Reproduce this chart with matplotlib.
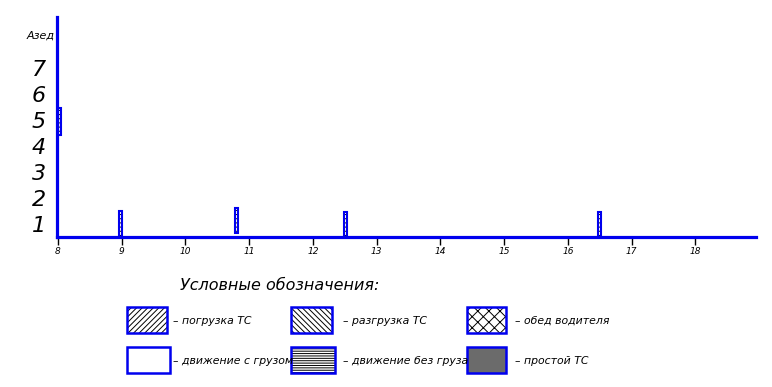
import matplotlib
matplotlib.use("Agg")
import matplotlib.pyplot as plt
from matplotlib.patches import Rectangle

# рейсы ТС: начало (ч), низ и высота столбика (Азед)
trip_x = [8.0, 8.96, 10.78, 12.48, 16.47]
trip_bottom = [3.92, 0.0, 0.14, 0.0, 0.0]
trip_height = [1.04, 0.99, 0.98, 0.98, 0.98]

hours = [8, 9, 10, 11, 12, 13, 14, 15, 16, 17, 18]
levels = [1, 2, 3, 4, 5, 6, 7]

legend_title = "Условные обозначения:"
legend_labels = ["– погрузка ТС", "– разгрузка ТС", "– обед водителя",
                 "– движение с грузом", "– движение без груза", "– простой ТС"]
legend_hatch = ["//////", "\\\\\\\\\\\\", "xxx", None, "-------", None]
legend_fill = ["white", "white", "white", "white", "white", "#6b6b6b"]

plt.rcParams["font.family"] = ["DejaVu Sans"]
plt.rcParams["hatch.linewidth"] = 0.7

blue = "#0000ee"
W, H = 772, 387

fig = plt.figure(figsize=(W / 100, H / 100), dpi=100)
ax = fig.add_axes([57 / W, (H - 237) / H, (756 - 57) / W, (237 - 17) / H])
ax.set_xlim(7.985, 18.95)
ax.set_ylim(0, 8.46)

for s in ["top", "right"]:
    ax.spines[s].set_visible(False)
for s in ["left", "bottom"]:
    ax.spines[s].set_color(blue)
    ax.spines[s].set_linewidth(2.3)

ax.set_xticks(hours)
ax.set_xticklabels([str(h) for h in hours], fontsize=6.5, style="italic")
ax.tick_params(axis="x", length=6, width=1, color="black", pad=1)
ax.set_yticks([v - 0.5 for v in levels])
ax.set_yticklabels([str(v) for v in levels], fontsize=16, style="italic")
ax.tick_params(axis="y", length=0, pad=8)
ax.annotate("Азед", xy=(0, 7.73), xycoords=ax.get_yaxis_transform(),
            xytext=(-2, 0), textcoords="offset points",
            ha="right", va="center", fontsize=8, style="italic")

ax.bar(trip_x, trip_height, bottom=trip_bottom, width=0.05, align="edge",
       facecolor="white", edgecolor="black", linewidth=0, hatch="----")
ax.bar(trip_x, trip_height, bottom=trip_bottom, width=0.05, align="edge",
       fill=False, edgecolor=blue, linewidth=1.5, clip_on=False)

# легенда в пиксельных координатах
lg = fig.add_axes([0, 0, 1, 1])
lg.set_xlim(0, W)
lg.set_ylim(H, 0)
lg.axis("off")
lg.text(180, 285, legend_title, fontsize=11.5, style="italic", va="center")

box_x = [127, 291, 467]
box_w = [40, 41, 39]
row_y = [307, 347]
text_x = [173, 343, 515]
for i, lab in enumerate(legend_labels):
    r, c = divmod(i, 3)
    x, y = box_x[c], row_y[r]
    w = box_w[c] + (3 if r == 1 and c < 2 else 0)
    lg.add_patch(Rectangle((x, y), w, 26, facecolor=legend_fill[i],
                           edgecolor="black", linewidth=0,
                           hatch=legend_hatch[i]))
    lg.add_patch(Rectangle((x, y), w, 26, fill=False, edgecolor=blue,
                           linewidth=1.8))
    lg.text(text_x[c], y + 14, lab, fontsize=7.8, style="italic", va="center")

fig.savefig("out.png", dpi=100)
